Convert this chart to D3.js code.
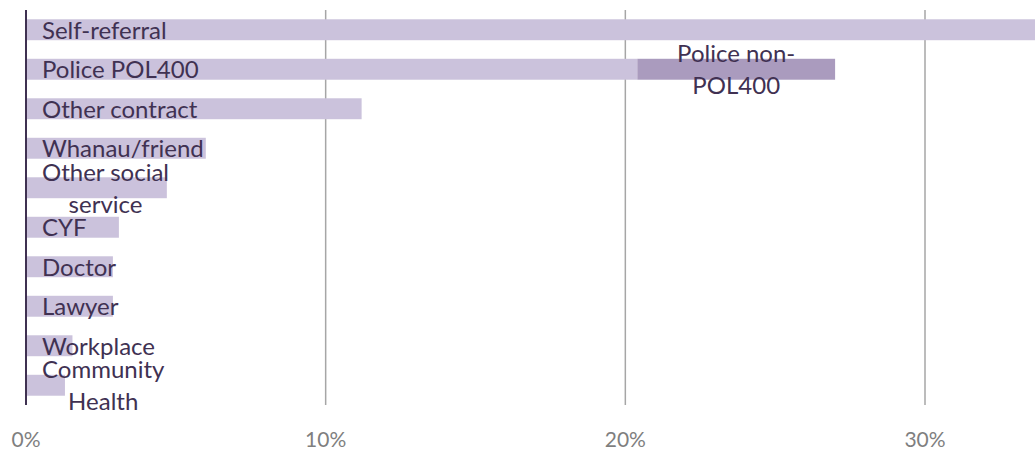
<!DOCTYPE html>
<html>
<head>
<meta charset="utf-8">
<script src="https://cdnjs.cloudflare.com/ajax/libs/d3/7.8.5/d3.min.js"></script>
<style>
  html, body { margin: 0; padding: 0; background: #fff; }
  svg { display: block; }
</style>
</head>
<body>
<div id="chart"></div>
<script>
// referral sources, top to bottom
var categories = ['Self-referral', 'Police POL400', 'Other contract', 'Whanau/friend',
    'Other social service', 'CYF', 'Doctor', 'Lawyer', 'Workplace', 'Community Health'];
// percent of referrals (first bar runs off the right edge)
var values = [35, 20.4, 11.2, 6.0, 4.7, 3.1, 2.9, 2.9, 1.55, 1.3];
// stacked on the Police row
var extraValues = [0, 6.6, 0, 0, 0, 0, 0, 0, 0, 0];
var extraLabel = ['Police non-', 'POL400'];
var ticks = [0, 10, 20, 30];
var tickLabels = ['0%', '10%', '20%', '30%'];

// how labels wrap in the original
var labelLines = {
    'Other social service': ['Other social', 'service'],
    'Community Health': ['Community', 'Health']
};

var width = 1035, height = 450;
var font = 'Lato, "Open Sans", sans-serif';

var svg = d3.select('#chart')
    .append('svg')
    .attr('width', width)
    .attr('height', height);

var x = d3.scaleLinear().domain([0, 30]).range([26, 925]);
var y = d3.scaleBand().domain(categories).range([10, 405]).paddingInner(0.47).paddingOuter(0.235);

// gridlines
svg.selectAll('.grid')
    .data(ticks.slice(1))
    .enter()
    .append('line')
    .attr('x1', function(d) { return x(d); })
    .attr('x2', function(d) { return x(d); })
    .attr('y1', 10)
    .attr('y2', 405)
    .attr('stroke', '#a6a6a6')
    .attr('stroke-width', 1.5);

// bars
svg.selectAll('.bar')
    .data(categories)
    .enter()
    .append('rect')
    .attr('x', x(0))
    .attr('y', function(d) { return y(d); })
    .attr('width', function(d, i) { return x(values[i]) - x(0); })
    .attr('height', y.bandwidth())
    .attr('fill', '#cbc2dc');

svg.selectAll('.bar2')
    .data(categories.filter(function(d, i) { return extraValues[i] > 0; }))
    .enter()
    .append('rect')
    .attr('x', function(d) { return x(values[categories.indexOf(d)]); })
    .attr('y', function(d) { return y(d); })
    .attr('width', function(d) { var i = categories.indexOf(d); return x(values[i] + extraValues[i]) - x(values[i]); })
    .attr('height', y.bandwidth())
    .attr('fill', '#aa9bbe');

// axis line
svg.append('line')
    .attr('x1', x(0)).attr('x2', x(0))
    .attr('y1', 10).attr('y2', 405)
    .attr('stroke', '#3f3151')
    .attr('stroke-width', 2);

// category labels
var labelSize = 24, lineGap = 32, capOff = 9;
categories.forEach(function(c) {
    var lines = labelLines[c] || [c];
    var cy = y(c) + y.bandwidth() / 2;
    var g = svg.append('g');
    var texts = lines.map(function(l, j) {
        return g.append('text')
            .attr('y', cy + capOff + (j - (lines.length - 1) / 2) * lineGap)
            .attr('font-family', font)
            .attr('font-size', labelSize)
            .attr('fill', '#403152')
            .text(l);
    });
    var maxW = d3.max(texts, function(t) { return t.node().getComputedTextLength(); });
    texts.forEach(function(t) {
        t.attr('x', 42 + maxW / 2).attr('text-anchor', 'middle');
    });
});

// label for the stacked piece
categories.forEach(function(c, i) {
    if (!extraValues[i]) return;
    var cx = (x(values[i]) + x(values[i] + extraValues[i])) / 2;
    var cy = y(c) + y.bandwidth() / 2;
    extraLabel.forEach(function(l, j) {
        svg.append('text')
            .attr('x', cx)
            .attr('y', cy + capOff + (j - 0.5) * lineGap)
            .attr('text-anchor', 'middle')
            .attr('font-family', font)
            .attr('font-size', labelSize)
            .attr('fill', '#403152')
            .text(l);
    });
});

// tick labels
svg.selectAll('.tick')
    .data(ticks)
    .enter()
    .append('text')
    .attr('x', function(d) { return x(d); })
    .attr('y', 447)
    .attr('text-anchor', 'middle')
    .attr('font-family', font)
    .attr('font-size', 21)
    .attr('fill', '#7f7f7f')
    .text(function(d, i) { return tickLabels[i]; });
</script>
</body>
</html>
